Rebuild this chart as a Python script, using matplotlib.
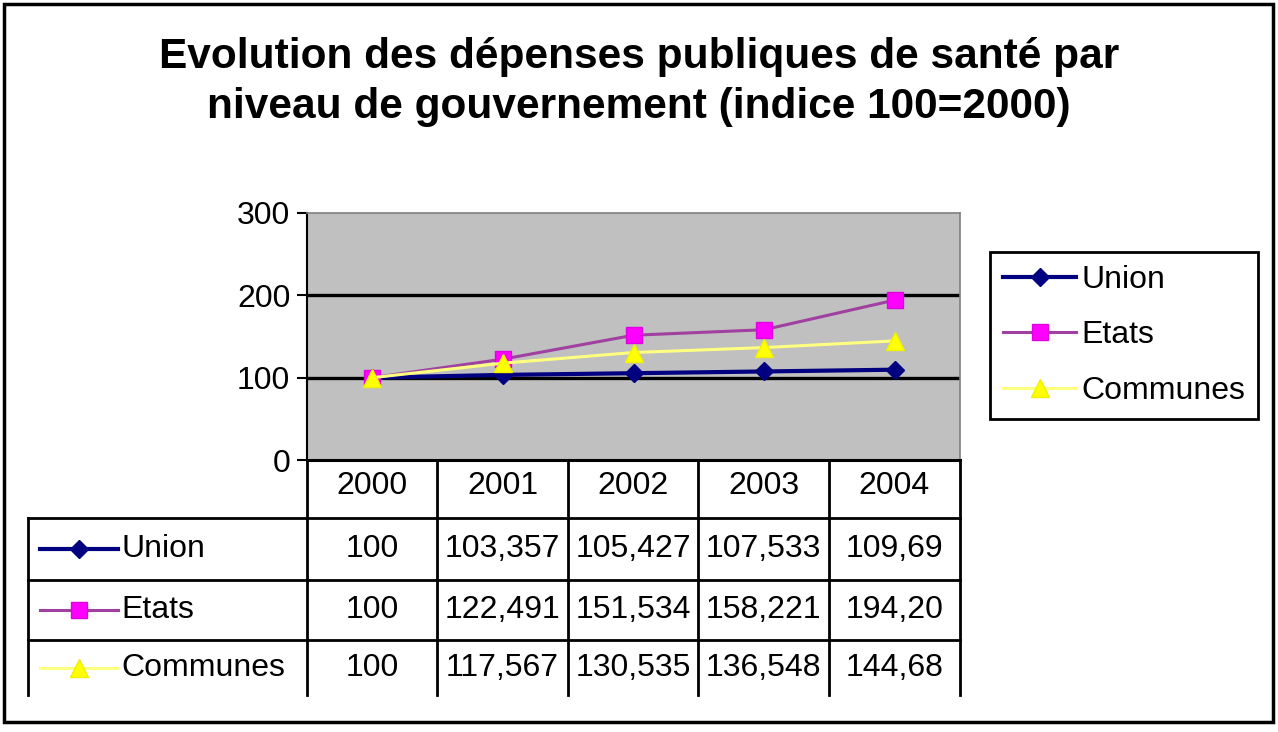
import matplotlib
matplotlib.use("Agg")
import matplotlib.pyplot as plt
from matplotlib.patches import Rectangle
from matplotlib.lines import Line2D

years = ["2000", "2001", "2002", "2003", "2004"]
series_names = ["Union", "Etats", "Communes"]
union = [100, 103.357, 105.427, 107.533, 109.69]
etats = [100, 122.491, 151.534, 158.221, 194.20]
communes = [100, 117.567, 130.535, 136.548, 144.68]
union_txt = ["100", "103,357", "105,427", "107,533", "109,69"]
etats_txt = ["100", "122,491", "151,534", "158,221", "194,20"]
communes_txt = ["100", "117,567", "130,535", "136,548", "144,68"]
yticks = [0, 100, 200, 300]

W, H = 1278, 732
fig = plt.figure(figsize=(W / 100, H / 100), dpi=100)
fig.patch.set_facecolor("white")

FONT = "Liberation Sans"

# overlay axes in pixel coordinates
ov = fig.add_axes([0, 0, 1, 1], zorder=0)
ov.set_xlim(0, W)
ov.set_ylim(H, 0)
ov.axis("off")
ov.add_patch(Rectangle((4, 4), W - 9, 718, fill=False, edgecolor="black", lw=2.5))

fig.text(0.5, 1 - 57 / H, "Evolution des dépenses publiques de santé par",
         ha="center", va="center", fontsize=30.5, fontweight="bold", family=FONT)
fig.text(0.5, 1 - 107 / H, "niveau de gouvernement (indice 100=2000)",
         ha="center", va="center", fontsize=30.5, fontweight="bold", family=FONT)

# main plot area
L, R, T, B = 307, 960, 213, 460
ax = fig.add_axes([L / W, 1 - B / H, (R - L) / W, (B - T) / H], zorder=1)
ax.set_facecolor("#c0c0c0")
ax.set_xlim(-0.5, len(years) - 0.5)
ax.set_ylim(0, 300)
ax.set_yticks(yticks)
ax.set_yticklabels([str(v) for v in yticks], fontsize=23, family=FONT)
ax.tick_params(axis="y", length=7, width=1.5, pad=5)
ax.set_xticks([])
for v in [100, 200]:
    ax.axhline(v, color="black", lw=2.4, zorder=1)
for s in ["top", "right"]:
    ax.spines[s].set_color("#808080")
    ax.spines[s].set_linewidth(1.2)
ax.spines["left"].set_linewidth(1.5)
ax.spines["bottom"].set_linewidth(2.2)

styles = {
    "Union": dict(color="#000080", mfc="#000080", mec="#000080", marker="D", ms=9, lw=3),
    "Etats": dict(color="#a040a0", mfc="#ff00ff", mec="#e000e0", marker="s", ms=11, lw=2.2),
    "Communes": dict(color="#ffff80", mfc="#ffff00", mec="#f0f000", marker="^", ms=13, lw=2.2),
}
data = {"Union": union, "Etats": etats, "Communes": communes}
xs = list(range(len(years)))
for name in series_names:
    ax.plot(xs, data[name], label=name, zorder=3, **styles[name])

# legend
handles = [Line2D([0], [0], **styles[n]) for n in series_names]
leg = fig.legend(handles, series_names, loc="upper left",
                 bbox_to_anchor=(990 / W, 1 - 252 / H), bbox_transform=fig.transFigure,
                 frameon=True, fancybox=False, edgecolor="black", framealpha=1,
                 prop={"family": FONT, "size": 23}, handlelength=2.3, handletextpad=0.15,
                 labelspacing=0.8, borderpad=0.4, borderaxespad=0)
leg.get_frame().set_linewidth(2)

# data table
col_edges = [307, 437, 568, 698, 829, 960]
row_edges = [460, 518, 580, 640, 695]
lab_left = 28
lw_t = 2
for x in col_edges:
    ov.plot([x, x], [row_edges[0], row_edges[-1]], color="black", lw=lw_t)
ov.plot([lab_left, lab_left], [row_edges[1], row_edges[-1]], color="black", lw=lw_t)
for y in row_edges[1:-1]:
    ov.plot([lab_left, col_edges[-1]], [y, y], color="black", lw=lw_t)

for i, yr in enumerate(years):
    cx = (col_edges[i] + col_edges[i + 1]) / 2
    ov.text(cx, (row_edges[0] + row_edges[1]) / 2 - 3, yr, ha="center", va="center",
            fontsize=23, family=FONT)

texts = {"Union": union_txt, "Etats": etats_txt, "Communes": communes_txt}
for r, name in enumerate(series_names):
    cy = (row_edges[r + 1] + row_edges[r + 2]) / 2
    st = styles[name]
    ov.plot([40, 118], [cy, cy], color=st["color"], lw=st["lw"])
    ov.plot([79], [cy], marker=st["marker"], ms=st["ms"], mfc=st["mfc"], mec=st["mec"], lw=0)
    ov.text(121, cy, name, ha="left", va="center", fontsize=23, family=FONT)
    for i, t in enumerate(texts[name]):
        cx = (col_edges[i] + col_edges[i + 1]) / 2
        ov.text(cx, cy, t, ha="center", va="center", fontsize=23, family=FONT)

fig.savefig("out.png", dpi=100)
